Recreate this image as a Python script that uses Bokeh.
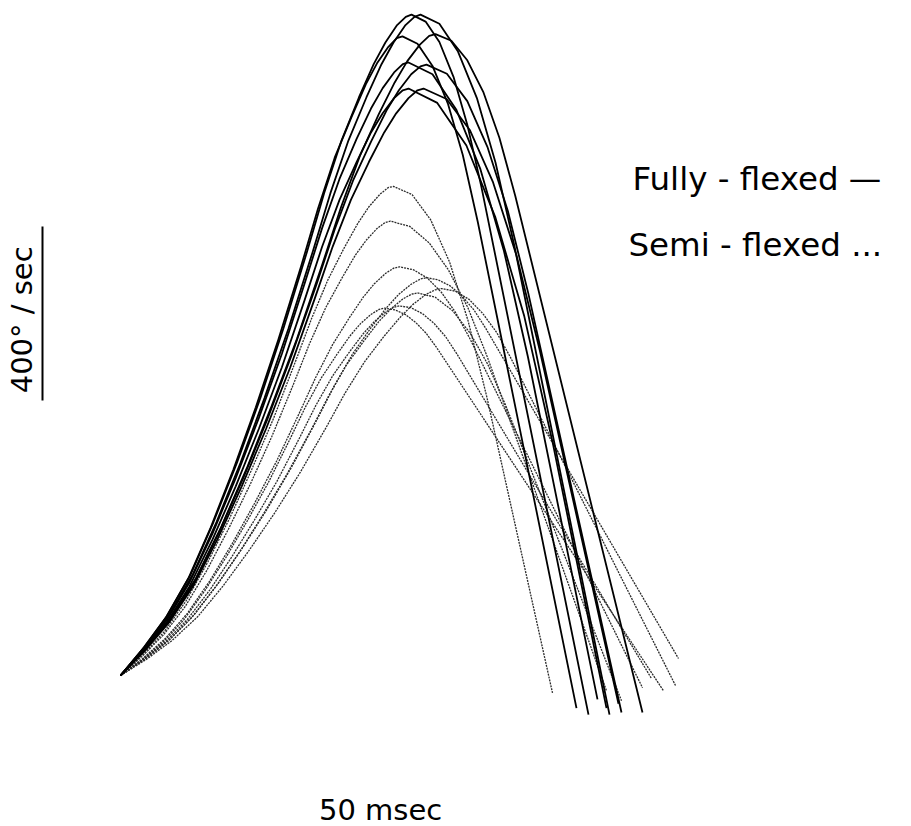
import math
from bokeh.plotting import figure
from bokeh.models import Range1d, Label
from bokeh.embed import file_html
from bokeh.resources import INLINE

# Angular velocity profiles: time (msec) vs velocity (deg/sec)
# Fully-flexed trials (solid)
fully_a_t = [0, 7.8, 15.5, 23.3, 31, 38.8, 46.6, 54.3, 62.1, 67.9, 73.7, 79.5, 84.4, 88.3, 92.2, 95.1, 97,
             101.7, 106.3, 111, 115.6, 120.3, 156]
fully_a_v = [0, 64, 137, 231, 353, 489, 638, 798, 973, 1110, 1231, 1330, 1406, 1456, 1496, 1515, 1520,
             1504, 1457, 1377, 1267, 1124, -90]
fully_b_t = [0, 8, 16, 24, 32, 40, 48, 56, 64, 70, 76, 82, 87, 91, 95, 98, 100,
             106.3, 112.5, 118.8, 125, 131.3, 163]
fully_b_v = [0, 64, 137, 231, 353, 489, 638, 798, 973, 1110, 1231, 1330, 1406, 1456, 1496, 1515, 1520,
             1499, 1435, 1328, 1180, 988, -90]
fully_c_t = [0, 8.4, 16.8, 25.2, 33.6, 42, 50.4, 58.8, 67.2, 73.5, 79.8, 86.1, 91.4, 95.6, 99.8, 102.9, 105,
             110.3, 115.6, 121, 126.3, 131.6, 174]
fully_c_v = [0, 62, 133, 224, 342, 475, 620, 774, 944, 1077, 1195, 1291, 1364, 1413, 1451, 1471, 1475,
             1460, 1415, 1341, 1237, 1103, -85]
fully_d_t = [0, 7.5, 15, 22.6, 30.1, 37.6, 45.1, 52.6, 60.2, 65.8, 71.4, 77.1, 81.8, 85.5, 89.3, 92.1, 94,
             99, 104, 109.1, 114.1, 119.1, 152]
fully_d_v = [0, 62, 132, 223, 341, 473, 617, 772, 941, 1073, 1191, 1286, 1360, 1408, 1446, 1466, 1470,
             1453, 1402, 1316, 1197, 1043, -75]
fully_e_t = [0, 7.7, 15.4, 23, 30.7, 38.4, 46.1, 53.8, 61.4, 67.2, 73, 78.7, 83.5, 87.4, 91.2, 94.1, 96,
             104, 111.9, 119.9, 127.8, 135.8, 159]
fully_e_v = [0, 59, 127, 214, 327, 454, 592, 740, 902, 1029, 1142, 1234, 1304, 1351, 1387, 1406, 1410,
             1383, 1302, 1166, 977, 733, -55]
fully_f_t = [0, 8.2, 16.3, 24.5, 32.6, 40.8, 49, 57.1, 65.3, 71.4, 77.5, 83.6, 88.7, 92.8, 96.9, 100, 102,
             108.8, 115.6, 122.3, 129.1, 135.9, 167]
fully_f_v = [0, 59, 126, 214, 326, 452, 590, 738, 899, 1026, 1138, 1229, 1300, 1346, 1383, 1401, 1405,
             1384, 1321, 1216, 1069, 880, -85]
fully_g_t = [0, 7.7, 15.4, 23, 30.7, 38.4, 46.1, 53.8, 61.4, 67.2, 73, 78.7, 83.5, 87.4, 91.2, 94.1, 96,
             105.6, 115.3, 124.9, 134.6, 144.2, 162]
fully_g_v = [0, 57, 122, 205, 313, 435, 567, 709, 864, 986, 1094, 1181, 1249, 1293, 1328, 1346, 1350,
             1317, 1219, 1055, 826, 531, -75]
fully_h_t = [0, 8.1, 16.2, 24.2, 32.3, 40.4, 48.5, 56.6, 64.6, 70.7, 76.8, 82.8, 87.9, 91.9, 96, 99, 101,
             108.7, 116.5, 124.2, 132, 139.7, 166]
fully_h_v = [0, 57, 122, 205, 313, 435, 567, 709, 864, 986, 1094, 1181, 1249, 1293, 1328, 1346, 1350,
             1326, 1254, 1134, 966, 750, -65]

# Semi-flexed trials (dotted)
semi_a_t = [0, 7.3, 14.6, 21.8, 29.1, 36.4, 43.7, 51, 58.2, 63.7, 69.2, 74.6, 79.2, 82.8, 86.5, 89.2, 91,
            97.2, 103.4, 109.7, 115.9, 122.1, 144]
semi_a_v = [0, 47, 101, 171, 261, 362, 473, 591, 720, 821, 911, 984, 1041, 1078, 1107, 1122, 1125,
            1106, 1048, 951, 815, 641, -40]
semi_b_t = [0, 7.2, 14.4, 21.6, 28.8, 36, 43.2, 50.4, 57.6, 63, 68.4, 73.8, 78.3, 81.9, 85.5, 88.2, 90,
            96.4, 102.9, 109.3, 115.8, 122.2, 162]
semi_b_v = [0, 44, 94, 159, 242, 337, 439, 549, 669, 763, 846, 914, 967, 1001, 1028, 1042, 1045,
            1033, 995, 933, 846, 734, -35]
semi_c_t = [0, 7.4, 14.9, 22.3, 29.8, 37.2, 44.6, 52.1, 59.5, 65.1, 70.7, 76.3, 80.9, 84.6, 88.4, 91.1, 93,
            97.7, 102.3, 107, 111.6, 116.3, 174]
semi_c_v = [0, 39, 85, 143, 218, 303, 395, 494, 602, 686, 761, 823, 870, 901, 925, 937, 940,
            933, 914, 881, 836, 777, -28]
semi_d_t = [0, 8.2, 16.3, 24.5, 32.6, 40.8, 49, 57.1, 65.3, 71.4, 77.5, 83.6, 88.7, 92.8, 96.9, 100, 102,
            105.9, 109.9, 113.8, 117.8, 121.7, 186]
semi_d_v = [0, 38, 82, 139, 212, 295, 384, 480, 586, 668, 741, 801, 846, 877, 900, 912, 915,
            910, 896, 873, 841, 799, 39]
semi_e_t = [0, 8.6, 17.1, 25.7, 34.2, 42.8, 51.4, 59.9, 68.5, 74.9, 81.3, 87.7, 93.1, 97.4, 101.7, 104.9, 107,
            111.6, 116.2, 120.7, 125.3, 129.9, 185]
semi_e_v = [0, 37, 80, 135, 206, 287, 374, 467, 570, 650, 721, 779, 823, 853, 876, 887, 890,
            884, 865, 833, 790, 733, -23]
semi_f_t = [0, 7.4, 14.9, 22.3, 29.8, 37.2, 44.6, 52.1, 59.5, 65.1, 70.7, 76.3, 80.9, 84.6, 88.4, 91.1, 93,
            96.8, 100.7, 104.5, 108.4, 112.2, 177]
semi_f_v = [0, 36, 77, 129, 197, 274, 357, 446, 544, 621, 689, 744, 786, 814, 836, 847, 850,
            846, 832, 810, 779, 739, -7]
semi_g_t = [0, 7, 14.1, 21.1, 28.2, 35.2, 42.2, 49.3, 56.3, 61.6, 66.9, 72.2, 76.6, 80.1, 83.6, 86.2, 88,
            91.5, 95, 98.4, 101.9, 105.4, 181]
semi_g_v = [0, 35, 76, 128, 196, 272, 355, 444, 541, 617, 684, 739, 782, 810, 831, 842, 845,
            841, 830, 812, 787, 754, -35]
semi_h_t = [0, 7.9, 15.8, 23.8, 31.7, 39.6, 47.5, 55.4, 63.4, 69.3, 75.2, 81.2, 86.1, 90.1, 94.1, 97, 99,
            104.9, 110.7, 116.6, 122.4, 128.3, 167]
semi_h_v = [0, 37, 79, 134, 204, 283, 370, 462, 563, 642, 713, 770, 814, 843, 866, 877, 880,
            870, 839, 787, 716, 623, -58]

fully_trials = [
    (fully_a_t, fully_a_v), (fully_b_t, fully_b_v), (fully_c_t, fully_c_v), (fully_d_t, fully_d_v),
    (fully_e_t, fully_e_v), (fully_f_t, fully_f_v), (fully_g_t, fully_g_v), (fully_h_t, fully_h_v),
]
semi_trials = [
    (semi_a_t, semi_a_v), (semi_b_t, semi_b_v), (semi_c_t, semi_c_v), (semi_d_t, semi_d_v),
    (semi_e_t, semi_e_v), (semi_f_t, semi_f_v), (semi_g_t, semi_g_v), (semi_h_t, semi_h_v),
]

# Calibration bar
scale_velocity = 400      # deg/sec
scale_bar_base = 632.5    # deg/sec level where the bar starts
scale_bar_time = -26      # msec

FONT = "DejaVu Sans"

p = figure(width=911, height=826, output_backend="svg", toolbar_location=None,
           x_range=Range1d(-40, 263.67), y_range=Range1d(-347.3, 1552.5),
           min_border=0, outline_line_color=None)
p.axis.visible = False
p.grid.visible = False
p.background_fill_color = "white"
p.border_fill_color = "white"

for t, v in semi_trials:
    p.line(t, v, line_color="#2a2a2a", line_width=1.3, line_dash="2 1")

for t, v in fully_trials:
    p.line(t, v, line_color="black", line_width=1.8, line_join="round")

# vertical scale bar
p.segment(x0=[scale_bar_time], y0=[scale_bar_base], x1=[scale_bar_time],
          y1=[scale_bar_base + scale_velocity], line_color="black", line_width=2)

p.add_layout(Label(x=-32.7, y=818, text="400° / sec",
                   angle=math.pi / 2, text_align="center", text_baseline="middle",
                   text_font=FONT, text_font_size="29px", text_color="black"))
p.add_layout(Label(x=86.7, y=-310, text="50 msec", text_align="center",
                   text_baseline="middle", text_font=FONT, text_font_size="29px",
                   text_color="black"))
p.add_layout(Label(x=170.7, y=1143, text="Fully - flexed —", text_align="left",
                   text_baseline="middle", text_font=FONT, text_font_size="32.5px",
                   text_color="black"))
p.add_layout(Label(x=169.3, y=991, text="Semi - flexed ...", text_align="left",
                   text_baseline="middle", text_font=FONT, text_font_size="32.5px",
                   text_color="black"))

open("out.html", "w").write(file_html(p, INLINE))
